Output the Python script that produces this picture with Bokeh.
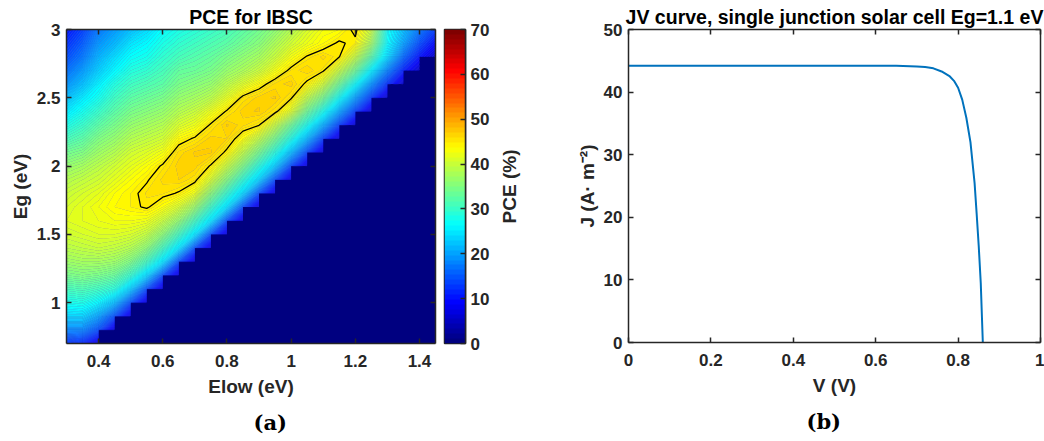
import numpy as np
import contourpy
from bokeh.plotting import figure
from bokeh.layouts import row
from bokeh.models import (LinearAxis, Title, Range1d, FixedTicker,
                          LinearColorMapper, CustomJSTickFormatter)
from bokeh.embed import file_html
from bokeh.resources import INLINE
import bokeh.plotting.contour as _bokeh_contour

# Grid cells touching a missing value are left out whole (as MATLAB contourf
# does), instead of being cut along the diagonal.
_orig_contour_generator = contourpy.contour_generator


def _contour_generator_full_cells(*args, **kwargs):
    kwargs.setdefault("corner_mask", False)
    return _orig_contour_generator(*args, **kwargs)


contourpy.contour_generator = _contour_generator_full_cells
if hasattr(_bokeh_contour, "contour_generator"):
    _bokeh_contour.contour_generator = _contour_generator_full_cells

# ---------------- data: PCE map (Elow x Eg grid) ----------------
elow = [0.30, 0.35, 0.40, 0.45, 0.50, 0.55, 0.60, 0.65, 0.70, 0.75, 0.80, 0.85,
        0.90, 0.95, 1.00, 1.05, 1.10, 1.15, 1.20, 1.25, 1.30, 1.35, 1.40, 1.45]
eg = [0.7, 0.8, 0.9, 1.0, 1.1, 1.2, 1.3, 1.4, 1.5, 1.6, 1.7, 1.8,
      1.9, 2.0, 2.1, 2.2, 2.3, 2.4, 2.5, 2.6, 2.7, 2.8, 2.9, 3.0]

NA = None  # no working cell (Eg too small for this Elow)
# PCE (%) for each Elow column, listed from Eg = 0.7 up to Eg = 3.0
pce_e030 = [12, 18, 23.5, 27.5, 31, 34.5, 37, 39, 40.5, 41.5, 41, 40, 38.5, 36.5, 34, 31, 28, 25, 22, 19, 16.5, 14, 12, 10]
pce_e035 = [11, 18, 23.5, 28, 31.5, 35, 37.5, 39.5, 41, 42, 42, 41, 39.5, 37.5, 35, 32.5, 30, 27.5, 25, 22, 19.5, 17, 15, 13]
pce_e040 = [6, 14, 20, 26, 30.5, 34.5, 37.5, 40, 41.5, 42.5, 43, 42, 40.5, 39, 37, 35, 32.5, 30, 27.5, 25.5, 23, 21, 19, 17]
pce_e045 = [NA] * 1 + [6, 14, 22, 29, 33.5, 37, 39.5, 41.5, 43, 44, 43.5, 42, 40.5, 38.5, 36.5, 34.5, 32.5, 30.5, 28.5, 26, 24, 21.5, 19.5]
pce_e050 = [NA] * 2 + [6, 14, 23, 30, 35, 38.5, 41, 43, 44.5, 44.5, 43.5, 42, 40.5, 38.5, 36.5, 34.5, 32.5, 30.5, 28.5, 26.5, 24.5, 22]
pce_e055 = [NA] * 3 + [6, 14, 24, 31, 36, 39.5, 42.5, 45.3, 45.6, 44.8, 43.5, 41.5, 39.5, 37.5, 35.5, 33.5, 31.5, 29.5, 27.5, 26, 24]
pce_e060 = [NA] * 4 + [6, 14, 25, 31, 36, 40, 43.5, 45.6, 46.2, 45.3, 43, 40.5, 38.5, 36.5, 34.5, 32.5, 31, 29.5, 28, 26.5]
pce_e065 = [NA] * 5 + [6, 14, 25, 31, 36.5, 41, 44.8, 46.5, 46.8, 46.2, 44, 41, 38.5, 36.5, 34.5, 33, 31, 29.5, 28]
pce_e070 = [NA] * 6 + [6, 14, 25, 31, 37, 42.5, 45.6, 46.8, 47.1, 45.3, 42.5, 40, 37.5, 35.5, 33.5, 32, 30.5, 29]
pce_e075 = [NA] * 7 + [6, 14, 25, 30.5, 36, 41, 44.8, 47.1, 46.8, 45.3, 42.5, 39, 36.5, 34.5, 33, 31.5, 30]
pce_e080 = [NA] * 8 + [6, 14, 24.5, 30, 35.5, 40, 44.5, 46.5, 47.1, 45.3, 42, 39, 36.5, 34.5, 32.5, 31]
pce_e085 = [NA] * 9 + [6, 14, 24, 29.5, 35, 39.5, 43.5, 46.2, 46.8, 45.6, 41.5, 38, 36, 34, 32.5]
pce_e090 = [NA] * 10 + [6, 14, 23.5, 29, 34.5, 39.5, 45.1, 47.1, 46.8, 44, 40, 37.5, 35.5, 34]
pce_e095 = [NA] * 11 + [6, 14, 23, 29, 34.5, 40, 45.6, 47.1, 46.2, 43, 40, 38, 36]
pce_e100 = [NA] * 12 + [6, 13.5, 22, 28.5, 34, 41.5, 45.3, 46.8, 45.6, 43, 40.5, 38.5]
pce_e105 = [NA] * 13 + [6, 13.5, 21.5, 28, 34, 39.5, 44.5, 46.5, 45.2, 42.5, 41]
pce_e110 = [NA] * 14 + [5.5, 13, 21, 28, 34.5, 40.5, 45.3, 46.2, 44, 43]
pce_e115 = [NA] * 15 + [5.5, 13, 20.5, 27.5, 34, 40, 45.1, 45.3, 43.5]
pce_e120 = [NA] * 16 + [5.5, 13, 20, 27, 34, 40, 44.5, 45.6]
pce_e125 = [NA] * 17 + [5, 12.5, 19, 26, 32.5, 37.5, 40]
pce_e130 = [NA] * 18 + [5, 12, 18, 24, 26.5, 27]
pce_e135 = [NA] * 19 + [5, 11, 16, 20, 22]
pce_e140 = [NA] * 20 + [5, 10, 14, 17]
pce_e145 = [NA] * 21 + [5, 9, 13]

pce_columns = [pce_e030, pce_e035, pce_e040, pce_e045, pce_e050, pce_e055,
               pce_e060, pce_e065, pce_e070, pce_e075, pce_e080, pce_e085,
               pce_e090, pce_e095, pce_e100, pce_e105, pce_e110, pce_e115,
               pce_e120, pce_e125, pce_e130, pce_e135, pce_e140, pce_e145]
highlight_level = 45

# ---------------- data: JV curve ----------------
v_volts = [0, 0.1, 0.2, 0.3, 0.4, 0.5, 0.6, 0.65, 0.7, 0.72, 0.74, 0.76, 0.78,
           0.79, 0.80, 0.81, 0.82, 0.83, 0.84, 0.845, 0.85, 0.855, 0.86]
j_current = [44.2, 44.2, 44.2, 44.2, 44.2, 44.2, 44.2, 44.2, 44.1, 44.0, 43.8,
             43.3, 42.5, 41.8, 40.7, 38.8, 35.9, 32.0, 25.5, 20.6, 15.5, 9.5, 0.0]

# ---------------- styling helpers ----------------
FONT = "Liberation Sans"
AX = "#262626"
PCE_MAX = 70


def jet_rgb(t):
    def ch(x):
        return min(max(x, 0.0), 1.0)
    return (ch(1.5 - abs(4 * t - 3)), ch(1.5 - abs(4 * t - 2)), ch(1.5 - abs(4 * t - 1)))


def hexc(rgb, white=0.0):
    r, g, b = [c + (1 - c) * white for c in rgb]
    return "#%02x%02x%02x" % (int(round(255 * r)), int(round(255 * g)), int(round(255 * b)))


def jet(t, white=0.0):
    return hexc(jet_rgb(t), white)


def style_axis(ax, ticks, labels=True):
    ax.ticker = FixedTicker(ticks=ticks)
    ax.major_tick_in = 5
    ax.major_tick_out = 0
    ax.minor_tick_in = 0
    ax.minor_tick_out = 0
    ax.major_tick_line_color = AX
    ax.major_tick_line_width = 1.5
    ax.axis_line_color = AX
    ax.axis_line_width = 1.5
    if labels:
        ax.formatter = CustomJSTickFormatter(code="return tick.toString()")
        ax.major_label_text_font = FONT
        ax.major_label_text_font_style = "bold"
        ax.major_label_text_font_size = "17px"
        ax.major_label_text_color = AX
        ax.major_label_standoff = 6
        ax.axis_label_text_font = FONT
        ax.axis_label_text_font_style = "bold"
        ax.axis_label_text_font_size = "19px"
        ax.axis_label_text_color = AX
    else:
        ax.formatter = CustomJSTickFormatter(code="return ''")
        ax.major_label_text_font_size = "0px"
        ax.major_label_standoff = 0


def mirror_axes(p, xticks, yticks):
    top = LinearAxis()
    style_axis(top, xticks, labels=False)
    p.add_layout(top, "above")
    right = LinearAxis()
    style_axis(right, yticks, labels=False)
    p.add_layout(right, "right")


def make_title(text):
    return Title(text=text, align="center", text_font=FONT, text_font_style="bold",
                 text_font_size="19.5px", text_color="#000000", standoff=4)


def caption(p, text, offset):
    p.add_layout(Title(text=text, align="left", offset=offset,
                       text_font="DejaVu Serif", text_font_style="bold",
                       text_font_size="21px", text_color="#000000", standoff=16),
                 "below")


# ---------------- panel (a): PCE map ----------------
pA = figure(frame_width=369, frame_height=314, x_range=Range1d(0.3, 1.45),
            y_range=Range1d(0.7, 3.0), output_backend="svg", toolbar_location=None,
            min_border_left=66, min_border_right=5, min_border_top=29,
            min_border_bottom=98)
pA.title = make_title("PCE for IBSC")
pA.background_fill_color = jet(0)
pA.border_fill_color = "white"
pA.outline_line_color = None
pA.grid.visible = False

Z = np.array(pce_columns, dtype=float).T  # rows: Eg, columns: Elow
levels = list(np.arange(0, PCE_MAX + 0.25, 0.5))
levels[0] = -1.0
fill_colors = [jet(max((levels[k] + levels[k + 1]) / 2, 0) / PCE_MAX)
               for k in range(len(levels) - 1)]
line_colors = [jet(max(lv, 0) / PCE_MAX, white=0.18) for lv in levels]
pA.contour(x=elow, y=eg, z=Z, levels=levels, fill_color=fill_colors,
           line_color=line_colors, line_width=0.6)
pA.contour(x=elow, y=eg, z=Z, levels=[highlight_level], line_color="black",
           line_width=1.3)

style_axis(pA.xaxis[0], [0.4, 0.6, 0.8, 1, 1.2, 1.4])
style_axis(pA.yaxis[0], [1, 1.5, 2, 2.5, 3])
pA.xaxis.axis_label = "Elow (eV)"
pA.yaxis.axis_label = "Eg (eV)"
pA.xaxis.major_label_standoff = 11
pA.xaxis.axis_label_standoff = 6
pA.yaxis.axis_label_standoff = 3
mirror_axes(pA, [0.4, 0.6, 0.8, 1, 1.2, 1.4], [1, 1.5, 2, 2.5, 3])
caption(pA, "(a)", 187)

# ---------------- colour bar ----------------
n_cb = 64
jet64 = [jet(k / (n_cb - 1)) for k in range(n_cb)]
cb_vals = ((np.arange(n_cb) + 0.5) * PCE_MAX / n_cb).reshape(-1, 1)
pC = figure(frame_width=21, frame_height=314, x_range=Range1d(0, 1),
            y_range=Range1d(0, PCE_MAX), output_backend="svg", toolbar_location=None,
            x_axis_location=None, y_axis_location="right",
            min_border_left=4, min_border_right=30, min_border_top=29,
            min_border_bottom=98)
pC.grid.visible = False
pC.outline_line_color = AX
pC.outline_line_width = 1.5
pC.image(image=[cb_vals], x=0, y=0, dw=1, dh=PCE_MAX,
         color_mapper=LinearColorMapper(palette=jet64, low=0, high=PCE_MAX))
style_axis(pC.yaxis[0], [0, 10, 20, 30, 40, 50, 60, 70])
pC.yaxis.major_label_standoff = 5

# label of the colour bar (reads bottom to top, like a left axis label)
pL = figure(frame_width=1, frame_height=314, x_range=Range1d(0, 1),
            y_range=Range1d(0, PCE_MAX), output_backend="svg", toolbar_location=None,
            x_axis_location=None, min_border_left=24, min_border_right=10,
            min_border_top=29, min_border_bottom=98)
pL.grid.visible = False
pL.outline_line_color = None
axL = pL.yaxis[0]
axL.ticker = FixedTicker(ticks=[])
axL.axis_line_color = None
axL.major_tick_line_color = None
axL.minor_tick_line_color = None
axL.major_label_standoff = 0
axL.axis_label = "PCE (%)"
axL.axis_label_standoff = 0
axL.axis_label_text_font = FONT
axL.axis_label_text_font_style = "bold"
axL.axis_label_text_font_size = "19px"
axL.axis_label_text_color = AX

# ---------------- panel (b): JV curve ----------------
pB = figure(frame_width=412, frame_height=313, x_range=Range1d(0, 1),
            y_range=Range1d(0, 50), output_backend="svg", toolbar_location=None,
            min_border_left=98, min_border_right=4, min_border_top=29,
            min_border_bottom=99)
pB.title = make_title("JV curve, single junction solar cell Eg=1.1 eV")
pB.outline_line_color = None
pB.grid.visible = False
pB.line(v_volts, j_current, line_color="#0072BD", line_width=2)
style_axis(pB.xaxis[0], [0, 0.2, 0.4, 0.6, 0.8, 1])
style_axis(pB.yaxis[0], [0, 10, 20, 30, 40, 50])
pB.xaxis.axis_label = "V (V)"
pB.yaxis.axis_label = "J (A\u00b7 m\u207b\u00b2)"
pB.xaxis.major_label_standoff = 11
pB.xaxis.axis_label_standoff = 6
pB.yaxis.axis_label_standoff = 3
mirror_axes(pB, [0, 0.2, 0.4, 0.6, 0.8, 1], [0, 10, 20, 30, 40, 50])
caption(pB, "(b)", 178)

layout = row(pA, pC, pL, pB)
open("out.html", "w").write(file_html(layout, INLINE))
